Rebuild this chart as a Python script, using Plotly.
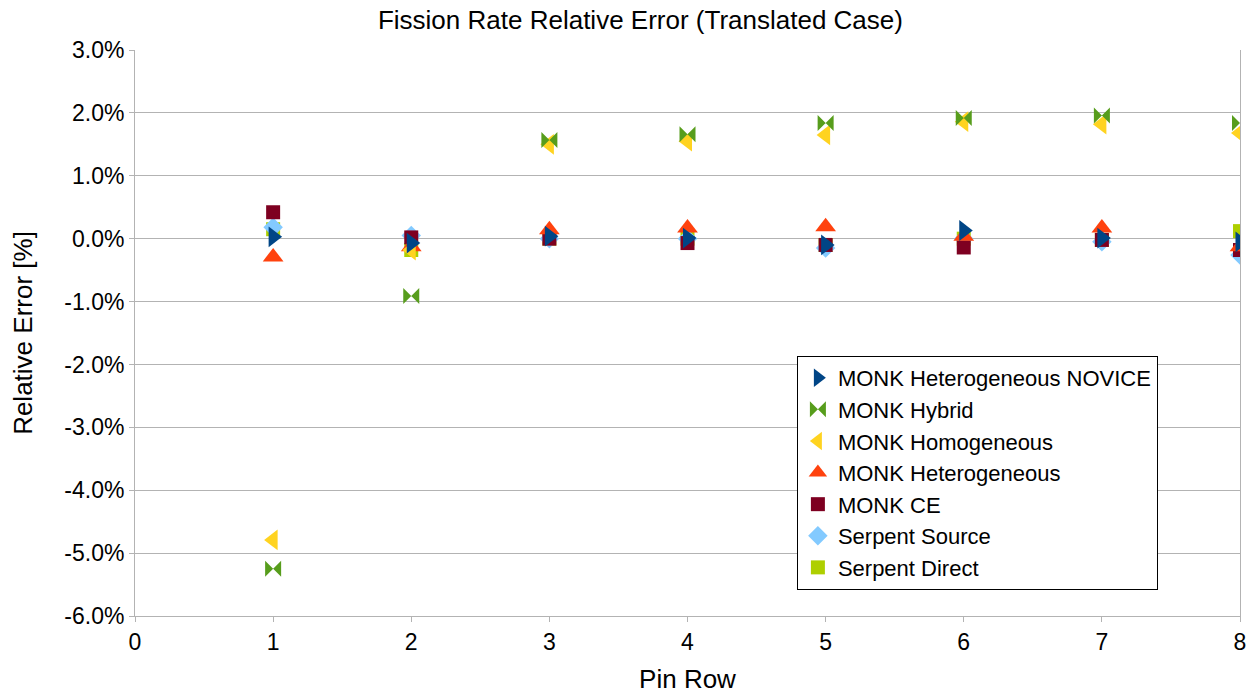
import plotly.graph_objects as go

pin_rows = [1, 2, 3, 4, 5, 6, 7, 8]

novice        = [0.03, -0.07, 0.04, 0.01, -0.10, 0.13, 0.01, -0.05]
hybrid        = [-5.25, -0.91, 1.57, 1.66, 1.84, 1.92, 1.96, 1.84]
homogeneous   = [-4.79, -0.18, 1.50, 1.55, 1.65, 1.86, 1.82, 1.68]
heterogeneous = [-0.29, -0.13, 0.14, 0.17, 0.19, 0.04, 0.17, -0.13]
monk_ce       = [0.42, 0.02, 0.00, -0.07, -0.10, -0.14, -0.02, -0.18]
serp_source   = [0.18, 0.05, 0.00, 0.00, -0.15, 0.00, -0.05, -0.26]
serp_direct   = [0.15, -0.18, 0.00, 0.00, -0.10, 0.00, -0.02, 0.12]

series = [
    ("MONK Heterogeneous NOVICE", novice, "triangle-right", "#004586", 18),
    ("MONK Hybrid", hybrid, "bowtie", "#579d1c", 16),
    ("MONK Homogeneous", homogeneous, "triangle-left", "#ffd320", 18),
    ("MONK Heterogeneous", heterogeneous, "triangle-up", "#ff420e", 18),
    ("MONK CE", monk_ce, "square", "#7e0021", 14),
    ("Serpent Source", serp_source, "diamond", "#83caff", 15),
    ("Serpent Direct", serp_direct, "square", "#aecf00", 14),
]

y_ticks = [3, 2, 1, 0, -1, -2, -3, -4, -5, -6]
y_tick_text = ["3.0%", "2.0%", "1.0%", "0.0%", "-1.0%", "-2.0%", "-3.0%", "-4.0%", "-5.0%", "-6.0%"]

fig = go.Figure()
for name, vals, sym, col, sz in reversed(series):
    fig.add_trace(go.Scatter(
        x=pin_rows, y=vals, mode="markers", name=name,
        marker=dict(symbol=sym, color=col, size=sz, line=dict(width=0)),
    ))

font = "Liberation Sans, Arial, sans-serif"
fig.update_layout(
    width=1246, height=694,
    paper_bgcolor="white", plot_bgcolor="white",
    margin=dict(l=135, r=6, t=50, b=78, autoexpand=False),
    font=dict(family=font, color="#000000", size=22),
    title=dict(text="Fission Rate Relative Error (Translated Case)", x=0.514, xanchor="center",
               y=0.972, yanchor="middle", font=dict(size=26, family=font)),
    showlegend=True,
    legend=dict(x=0.599, y=0.2527, xanchor="left", yanchor="middle",
                bordercolor="#000000", borderwidth=1, bgcolor="white",
                traceorder="reversed", font=dict(size=22, family=font),
                itemsizing="trace", tracegroupgap=0),
)
fig.update_xaxes(
    range=[0, 8], tickmode="array", tickvals=list(range(9)),
    showgrid=False, zeroline=False, showline=True, linecolor="#b3b3b3", linewidth=1,
    ticks="outside", ticklen=5, tickcolor="#b3b3b3", automargin=True,
    ticklabeloverflow="allow",
    tickfont=dict(size=23, family=font),
    title=dict(text="Pin Row", font=dict(size=26, family=font), standoff=30),
)
fig.update_yaxes(
    range=[-6, 3], tickmode="array", tickvals=y_ticks, ticktext=y_tick_text,
    showgrid=True, gridcolor="#b3b3b3", gridwidth=1, zeroline=False,
    showline=True, linecolor="#b3b3b3", linewidth=1, mirror=True,
    ticks="outside", ticklen=5, tickcolor="#b3b3b3", automargin=True,
    tickfont=dict(size=23, family=font),
    title=dict(text="Relative Error [%]", font=dict(size=26, family=font), standoff=24),
)

fig.write_html("out.html")
